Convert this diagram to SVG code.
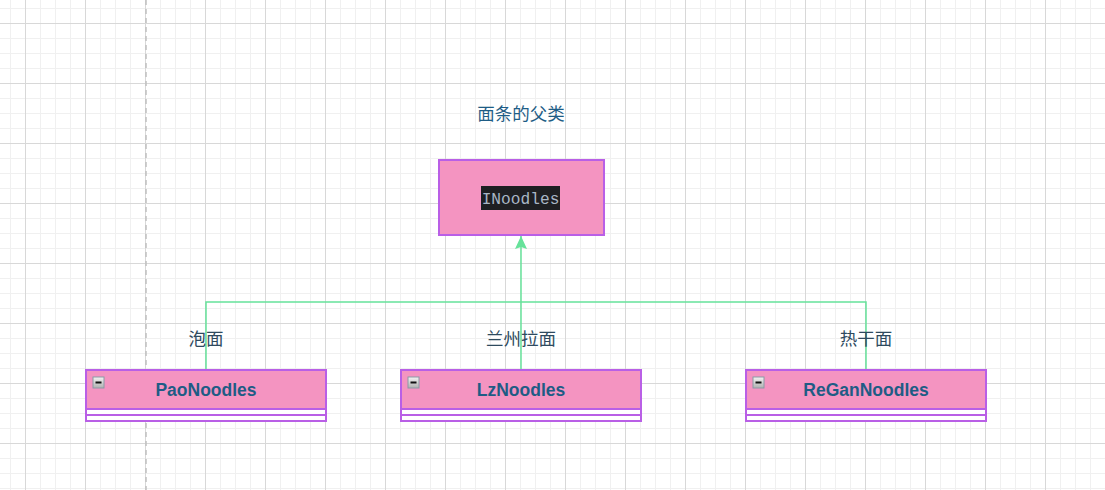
<svg xmlns="http://www.w3.org/2000/svg" width="1105" height="490" viewBox="0 0 1105 490">
<defs>
<pattern id="minor" width="15" height="15" patternUnits="userSpaceOnUse" x="10" y="8">
<path d="M0 0.5H15M0.5 0V15" stroke="#f0f0f0" stroke-width="1" fill="none"/>
</pattern>
<pattern id="major" width="60" height="60" patternUnits="userSpaceOnUse" x="25" y="23">
<path d="M0 0.5H60M0.5 0V60" stroke="#d8d8d8" stroke-width="1" fill="none"/>
</pattern>
<linearGradient id="ig" x1="0" y1="0" x2="0" y2="1">
<stop offset="0" stop-color="#f4f4f4"/>
<stop offset="1" stop-color="#b0b0b0"/>
</linearGradient>
<marker id="arr" markerWidth="14" markerHeight="12" refX="13" refY="6" orient="auto" markerUnits="userSpaceOnUse" viewBox="0 0 14 12">
<path d="M0 0 L13 6 L0 12 L2 6 Z" fill="#66e29a"/>
</marker>
<g id="icon"><rect x="0.5" y="0.5" width="11" height="11" fill="url(#ig)" stroke="#8a9aa6"/><rect x="3" y="5" width="6" height="2" fill="#111"/></g>
</defs>
<style>
.box{fill:#f494c1;stroke:#b95fe6;stroke-width:2}
.comp{fill:#fff;stroke:#b95fe6;stroke-width:2}
.cn{font-family:"Liberation Sans",Arial,sans-serif;font-weight:bold;font-size:17.5px;fill:#1e5c85;text-anchor:middle}
.lbl{font-family:"Noto Sans CJK SC",sans-serif;font-size:17.5px;fill:#2e4a5e;text-anchor:middle}
.conn{fill:none;stroke:#66e29a;stroke-width:1.5}
</style>
<rect width="1105" height="490" fill="#fff"/>
<rect width="1105" height="490" fill="url(#minor)"/>
<rect width="1105" height="490" fill="url(#major)"/>
<line x1="146" y1="0" x2="146" y2="490" stroke="#c0c0c0" stroke-width="1.5" stroke-dasharray="5,4"/>

<g id="connectors">
<path class="conn" d="M206 370V302H866V370"/>
<path class="conn" d="M521 370V236" marker-end="url(#arr)"/>
</g>

<g id="title"><text x="521" y="120" class="lbl" style="fill:#1e5c85">面条的父类</text></g>

<g id="INoodles">
<rect x="439" y="160" width="165" height="75" class="box"/>
<rect x="481" y="186" width="79" height="24" fill="#1e1f22"/>
<text x="520.5" y="203.5" font-family="'Liberation Mono','DejaVu Sans Mono',monospace" font-size="16.2" fill="#a9b7c6" text-anchor="middle">INoodles</text>
</g>

<g id="PaoNoodles">
<rect x="86" y="370" width="240" height="39" class="box"/>
<rect x="86" y="409" width="240" height="6" class="comp"/>
<rect x="86" y="415" width="240" height="6" class="comp"/>
<use href="#icon" x="92.5" y="376.5"/>
<text x="206" y="396" class="cn">PaoNoodles</text>
<text x="206" y="345" class="lbl">泡面</text>
</g>

<g id="LzNoodles">
<rect x="401" y="370" width="240" height="39" class="box"/>
<rect x="401" y="409" width="240" height="6" class="comp"/>
<rect x="401" y="415" width="240" height="6" class="comp"/>
<use href="#icon" x="407.5" y="376.5"/>
<text x="521" y="396" class="cn">LzNoodles</text>
<text x="521" y="345" class="lbl">兰州拉面</text>
</g>

<g id="ReGanNoodles">
<rect x="746" y="370" width="240" height="39" class="box"/>
<rect x="746" y="409" width="240" height="6" class="comp"/>
<rect x="746" y="415" width="240" height="6" class="comp"/>
<use href="#icon" x="752.5" y="376.5"/>
<text x="866" y="396" class="cn">ReGanNoodles</text>
<text x="866" y="345" class="lbl">热干面</text>
</g>
</svg>
